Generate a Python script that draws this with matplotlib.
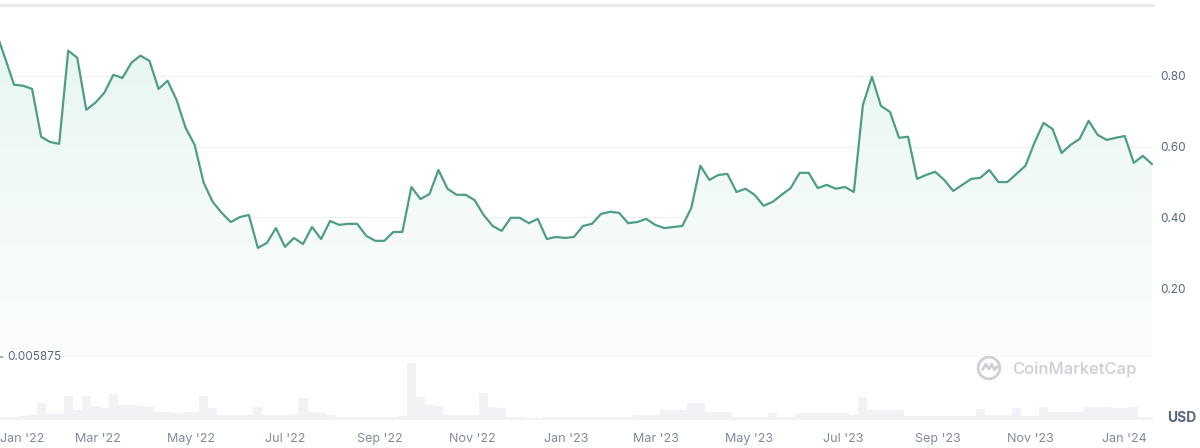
import numpy as np
import pandas as pd
import matplotlib
matplotlib.use("Agg")
import matplotlib.pyplot as plt
from matplotlib.colors import LinearSegmentedColormap
from matplotlib.patches import Polygon, Circle
from matplotlib.transforms import ScaledTranslation, blended_transform_factory

plt.rcParams["font.family"] = ["Inter", "DejaVu Sans"]

# price (USD), one sample roughly every 6 days
price = [
    0.924, 0.851, 0.775, 0.772, 0.763, 0.628, 0.613, 0.608, 0.871, 0.851,
    0.704, 0.724, 0.752, 0.803, 0.794, 0.837, 0.857, 0.842, 0.763, 0.786,
    0.732, 0.653, 0.605, 0.498, 0.444, 0.413, 0.387, 0.401, 0.407, 0.314,
    0.328, 0.370, 0.317, 0.342, 0.325, 0.373, 0.339, 0.390, 0.379, 0.382,
    0.382, 0.348, 0.334, 0.334, 0.359, 0.359, 0.486, 0.452, 0.466, 0.534,
    0.481, 0.464, 0.464, 0.449, 0.407, 0.376, 0.362, 0.399, 0.399, 0.384,
    0.396, 0.339, 0.345, 0.342, 0.345, 0.376, 0.382, 0.410, 0.416, 0.413,
    0.384, 0.387, 0.396, 0.379, 0.370, 0.373, 0.376, 0.427, 0.546, 0.506,
    0.520, 0.523, 0.472, 0.481, 0.464, 0.433, 0.444, 0.464, 0.483, 0.526,
    0.526, 0.483, 0.492, 0.481, 0.486, 0.472, 0.718, 0.797, 0.715, 0.698,
    0.625, 0.628, 0.509, 0.520, 0.529, 0.506, 0.475, 0.492, 0.509, 0.512,
    0.534, 0.500, 0.500, 0.523, 0.546, 0.611, 0.667, 0.650, 0.582, 0.605,
    0.622, 0.673, 0.633, 0.619, 0.625, 0.630, 0.554, 0.574, 0.551,
]

# trading volume (relative units)
volume = [
    3, 3, 3, 4, 5, 17, 6, 6, 24, 10,
    24, 14, 12, 26, 15, 15, 14, 13, 8, 8,
    7, 8, 8, 24, 12, 5, 5, 5, 5, 13,
    5, 5, 5, 6, 22, 8, 7, 5, 3, 3,
    3, 3, 3, 3, 3, 4, 57, 23, 15, 14,
    5, 5, 5, 5, 27, 13, 12, 3, 3, 2,
    2, 3, 3, 3, 3, 3, 3, 3, 3, 3,
    3, 5, 5, 5, 10, 10, 10, 17, 17, 8,
    8, 8, 3, 3, 3, 3, 7, 3, 3, 7,
    7, 7, 7, 7, 7, 5, 23, 10, 10, 10,
    10, 4, 4, 4, 4, 4, 4, 4, 4, 11,
    5, 5, 5, 12, 4, 4, 13, 8, 8, 8,
    8, 13, 13, 13, 12, 12, 13, 3, 3,
]

dates = pd.date_range("2021-12-24 04:00", periods=len(price), freq="8505min")
tick_months = pd.date_range("2022-01-01", "2024-01-01", freq="2MS")
tick_labels = [d.strftime("%b '%y") for d in tick_months]
y_ticks = [0.20, 0.40, 0.60, 0.80]
y_labels = ["0.20", "0.40", "0.60", "0.80"]
price_floor = 0.005875

LINE = "#4f9e82"
TEXT = "#58667e"
TICK = "#808a9d"

fig = plt.figure(figsize=(12, 4.48), dpi=100)
vax = fig.add_axes([0, 1 - 420 / 448, 1153 / 1200, 63 / 448])
ax = fig.add_axes([0, 1 - 357 / 448, 1153 / 1200, 352 / 448])
ax.patch.set_visible(False)
vax.patch.set_visible(False)

x0 = pd.Timestamp("2022-01-01")
xmin = x0 - pd.Timedelta(days=5.2)
xmax = x0 + pd.Timedelta(days=748.9)

# price line + gradient fill
ax.set_xlim(xmin, xmax)
ax.set_ylim(price_floor, 1.0)
xs = matplotlib.dates.date2num(dates)
poly = np.column_stack([np.r_[xs[0], xs, xs[-1]], np.r_[price_floor, price, price_floor]])
clip = Polygon(poly, closed=True, facecolor="none", edgecolor="none")
ax.add_patch(clip)
cmap = LinearSegmentedColormap.from_list("g", ["#fbfdfc", "#f2faf7", "#e6f6ef"])
grad = np.linspace(0, 1, 256).reshape(-1, 1)
img = ax.imshow(grad, cmap=cmap, aspect="auto", origin="lower",
                extent=[xs[0], xs[-1], price_floor, 0.95], zorder=1)
img.set_clip_path(clip)
ax.plot(dates, price, color=LINE, lw=1.6, zorder=3, solid_joinstyle="round")

for v in y_ticks:
    ax.axhline(v, color="#f0f1f3", lw=1, zorder=0.5)
ax.axhline(1.0, color="#e8e9ec", lw=2, zorder=0.5, clip_on=False)
ax.axhline(price_floor, color="#ccd0d6", lw=1, ls=(0, (1, 2)), zorder=2)

ax.yaxis.tick_right()
ax.set_yticks(y_ticks)
ax.set_yticklabels(y_labels, fontsize=8.5, color=TEXT)
ax.tick_params(axis="y", length=0, pad=5)
ax.tick_params(axis="x", length=0, labelbottom=False)
for s in ax.spines.values():
    s.set_visible(False)

tr = blended_transform_factory(ax.transAxes, ax.transData)
ax.plot([0, 2 / 1153], [price_floor, price_floor], color="#aab0ba", lw=1.5,
        transform=tr, clip_on=False, zorder=5)
ax.text(7 / 1153, price_floor, "0.005875", transform=tr, fontsize=8.5,
        color=TEXT, va="center", ha="left", zorder=6,
        bbox=dict(boxstyle="square,pad=0.1", fc="white", ec="none"))

# volume bars
vax.bar(dates, volume, width=5.906, color="#f1f2f5", align="center")
vax.set_ylim(0, 63)
vax.set_yticks([])
for s in vax.spines.values():
    s.set_visible(False)
vax.set_xlim(xmin, xmax)
vax.set_xticks(tick_months)
vax.set_xticklabels(tick_labels, fontsize=9, color=TICK)
vax.tick_params(axis="x", length=0, pad=9)
first = vax.get_xticklabels()[0]
first.set_ha("left")
first.set_transform(first.get_transform() + ScaledTranslation(-8 / 100, 0, fig.dpi_scale_trans))

fig.text(1167 / 1200, 1 - 418 / 448, "USD", fontsize=10, color=TEXT,
         fontweight="bold", va="center", ha="left")

# watermark
lax = fig.add_axes([976 / 1200, 1 - 381 / 448, 26 / 1200, 26 / 448])
lax.set_xlim(-1.2, 1.2)
lax.set_ylim(-1.2, 1.2)
lax.set_aspect("equal")
lax.axis("off")
lax.add_patch(Circle((0, 0), 1.0, fill=False, ec="#cdd1d7", lw=2))
lax.plot([-0.55, -0.3, 0.0, 0.25, 0.5, 0.75], [-0.1, 0.35, -0.1, 0.35, -0.15, 0.1],
         color="#cdd1d7", lw=2)
fig.text(1012 / 1200, 1 - 369 / 448, "CoinMarketCap", fontsize=12, color="#cbcfd5",
         fontweight="medium", va="center", ha="left")

fig.savefig("out.png", dpi=100)
